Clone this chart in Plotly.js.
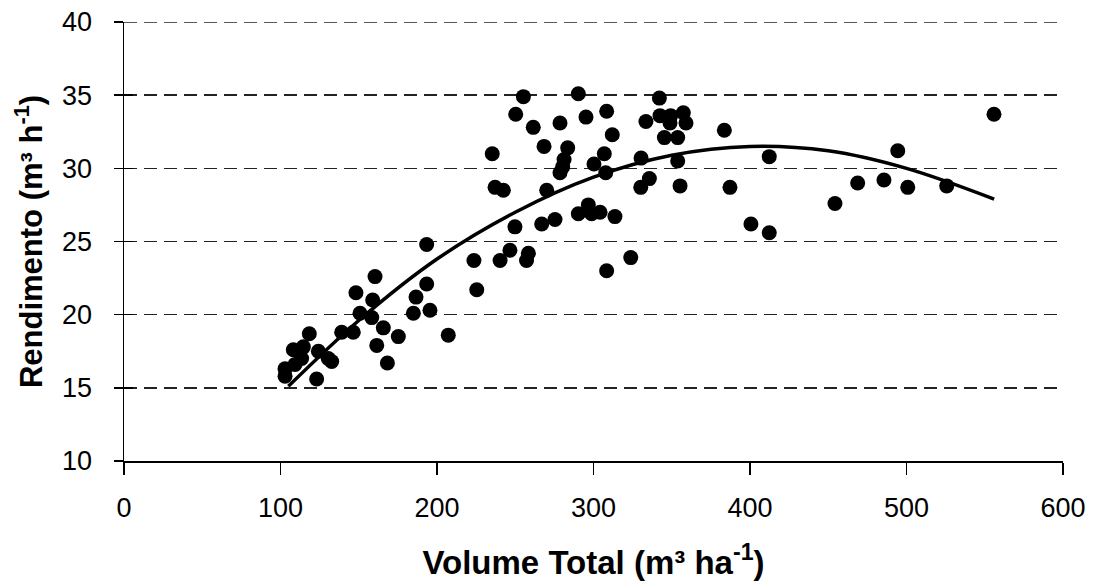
<!DOCTYPE html>
<html>
<head>
<meta charset="utf-8">
<script src="https://cdn.plot.ly/plotly-3.0.1.min.js"></script>
<style>html,body{margin:0;padding:0;background:#fff;}#chart{width:1097px;height:586px;}</style>
</head>
<body>
<div id="chart"></div>
<script>
// Observed points: Volume Total (m3 ha-1) vs Rendimento (m3 h-1)
const volumeTotal = [
  102.9, 102.9, 108.2, 109.3, 113.5, 114.6, 118.4, 123.1, 124.2, 130.5,
  132.7, 139.1, 146.5, 148.2, 150.8, 158.3, 158.9, 160.4, 161.5, 165.7,
  168.3, 175.3, 184.9, 186.6, 193.4, 193.4, 195.5, 207.2,
  223.6, 225.4, 235.3, 237.1, 240.3, 242.4, 246.6, 249.8, 250.3, 255.2,
  257.2, 258.4, 261.5, 266.9, 268.4, 270.1, 275.4, 278.6, 278.6, 280.3,
  281.2, 283.5, 290.3, 290.3, 295.2, 296.7, 298.8, 300.3, 304.2, 306.9,
  307.8, 308.4, 308.4, 312.0, 313.7, 323.8, 330.4, 330.2, 333.5, 335.7,
  342.1, 342.5, 345.3, 348.9, 349.3, 353.8, 353.8, 355.3, 357.4, 359.1,
  383.6, 387.2, 400.6, 412.3, 412.3, 454.3, 468.8, 485.6, 494.4, 500.8,
  525.7, 555.9
];
const rendimento = [
  16.3, 15.8, 17.6, 16.6, 17.0, 17.8, 18.7, 15.6, 17.5, 17.0,
  16.8, 18.8, 18.8, 21.5, 20.1, 19.8, 21.0, 22.6, 17.9, 19.1,
  16.7, 18.5, 20.1, 21.2, 22.1, 24.8, 20.3, 18.6,
  23.7, 21.7, 31.0, 28.7, 23.7, 28.5, 24.4, 26.0, 33.7, 34.9,
  23.7, 24.2, 32.8, 26.2, 31.5, 28.5, 26.5, 33.1, 29.7, 30.1,
  30.6, 31.4, 35.1, 26.9, 33.5, 27.5, 26.9, 30.3, 27.0, 31.0,
  29.7, 33.9, 23.0, 32.3, 26.7, 23.9, 30.7, 28.7, 33.2, 29.3,
  34.8, 33.6, 32.1, 33.1, 33.6, 32.1, 30.5, 28.8, 33.8, 33.1,
  32.6, 28.7, 26.2, 30.8, 25.6, 27.6, 29.0, 29.2, 31.2, 28.7,
  28.8, 33.7
];
// Trend curve
const trendX = [105, 150, 200, 250, 300, 350, 400, 450, 500, 556];
const trendY = [15.1, 19.6, 23.8, 27.0, 29.4, 30.9, 31.5, 31.2, 30.0, 27.9];

const xTicks = [0, 100, 200, 300, 400, 500, 600];
const yTicks = [10, 15, 20, 25, 30, 35, 40];
const yTop = 40;

const font = "Liberation Sans, Arial, sans-serif";

const traces = [
  {
    x: volumeTotal, y: rendimento, type: 'scatter', mode: 'markers',
    marker: {color: '#000', size: 15, line: {width: 0}},
    hoverinfo: 'x+y', showlegend: false
  },
  {
    x: trendX, y: trendY, type: 'scatter', mode: 'lines',
    line: {color: '#000', width: 3.5, shape: 'spline', smoothing: 1.0},
    showlegend: false
  },
  {
    x: [0], y: [10], yaxis: 'y2', type: 'scatter', mode: 'markers',
    marker: {opacity: 0}, showlegend: false, hoverinfo: 'skip'
  }
];

const layout = {
  width: 1097, height: 586,
  margin: {l: 124, r: 34, t: 22, b: 125},
  paper_bgcolor: '#fff', plot_bgcolor: '#fff',
  font: {family: font, color: '#000'},
  xaxis: {
    range: [0, 600], tickvals: xTicks, ticktext: xTicks.map(String),
    showline: true, linecolor: '#000', linewidth: 1.5,
    ticks: 'outside', ticklen: 12, tickwidth: 1.5, tickcolor: '#000',
    showgrid: false, zeroline: false,
    tickfont: {size: 27, family: font, color: '#000'},
    ticklabelstandoff: 10,
    title: {text: '<b>Volume Total (m³ ha<sup>-1</sup>)</b>', font: {size: 33, family: font, color: '#000'}, standoff: 29}
  },
  yaxis: {
    range: [10, 40], tickvals: yTicks, ticktext: yTicks.map(String),
    showline: true, linecolor: '#000', linewidth: 1.5,
    ticks: 'outside', ticklen: 9, tickwidth: 1.5, tickcolor: '#000',
    showgrid: true, gridcolor: '#222', gridwidth: 1.5, griddash: '13px,7px',
    zeroline: false,
    tickfont: {size: 27, family: font, color: '#000'},
    ticklabelstandoff: 16,
    title: {text: '<b>Rendimento (m³ h<sup>-1</sup>)</b>', font: {size: 31, family: font, color: '#000'}, standoff: 10}
  },
  yaxis2: {
    overlaying: 'y', side: 'left', range: [10, 40], tickvals: yTicks,
    showticklabels: false, ticks: 'inside', ticklen: 9, tickwidth: 1.5, tickcolor: '#000',
    showgrid: false, zeroline: false, showline: false
  },
  shapes: [
    {type: 'line', xref: 'paper', yref: 'y', x0: 0, x1: 1, y0: yTop, y1: yTop,
     line: {color: '#222', width: 1.5, dash: '13px,7px'}, layer: 'below'}
  ],
  showlegend: false
};

Plotly.newPlot('chart', traces, layout, {displayModeBar: false, staticPlot: true});
</script>
</body>
</html>
